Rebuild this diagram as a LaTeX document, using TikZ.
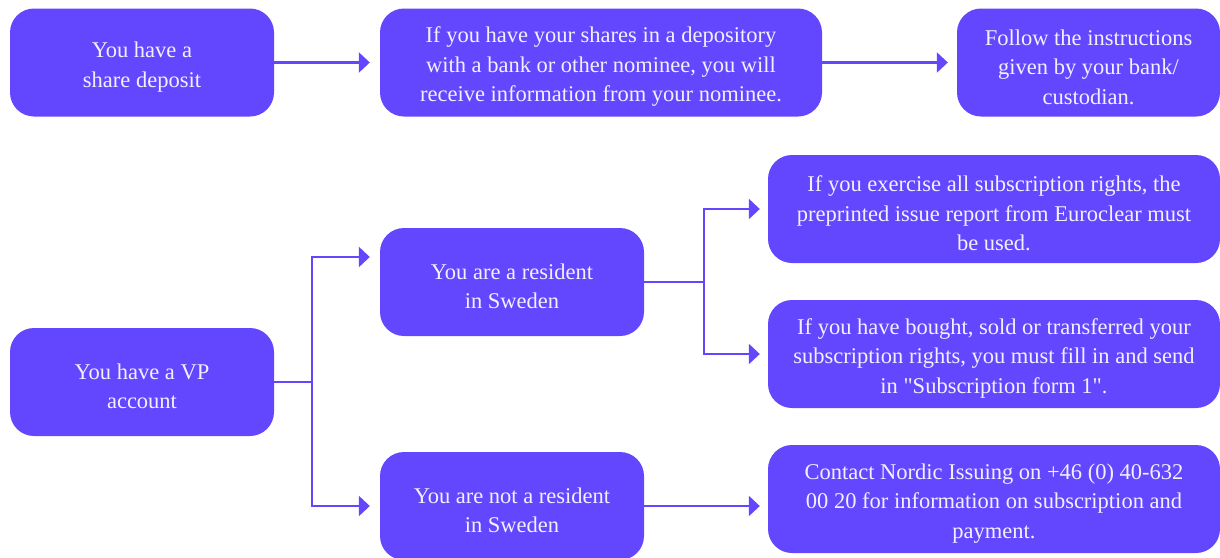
\documentclass[tikz,border=0pt]{standalone}
\usepackage{fontspec}
\setmainfont{Liberation Serif}
\usetikzlibrary{arrows.meta}
\definecolor{boxviolet}{HTML}{6347FF}
\definecolor{boxtext}{HTML}{F2F0FF}
\newcommand\plainquote{\XeTeXglyph\XeTeXglyphindex"quotedbl"\relax}
\newcommand\topgap{\rule{0pt}{24.5pt}}
\begin{document}
\begin{tikzpicture}[x=1pt,y=-1pt,
    box/.style={fill=boxviolet, rounded corners=24pt, text=boxtext, align=center,
      inner sep=0pt, minimum height=108pt, font=\fontsize{22.5}{29.5}\selectfont},
    link/.style={draw=boxviolet, line width=2.4pt, -{Triangle[length=11pt,width=20pt]}},
    stub/.style={draw=boxviolet, line width=2.4pt}]
      \useasboundingbox (0,0) rectangle (1220,557);
      \node[box, minimum width=264pt] (deposit) at (142,62.5) {\topgap You have a\\share deposit};
      \node[box, minimum width=442pt] (nominee) at (601,62.5) {\topgap If you have your shares in a depository\\with a bank or other nominee, you will\\receive information from your nominee.};
      \node[box, minimum width=263pt] (custodian) at (1088.5,62.5) {\topgap Follow the instructions\\given by your bank/\\custodian.};
      \node[box, minimum width=264pt] (vp) at (142,382) {\topgap You have a VP\\account};
      \node[box, minimum width=264pt] (resident) at (512,282) {\topgap You are a resident\\in Sweden};
      \node[box, minimum width=264pt] (nonresident) at (512,506) {\topgap You are not a resident\\in Sweden};
      \node[box, minimum width=452pt] (allrights) at (994,209) {\topgap If you exercise all subscription rights, the\\preprinted issue report from Euroclear must\\be used.};
      \node[box, minimum width=452pt] (traded) at (994,354) {\topgap If you have bought, sold or transferred your\\subscription rights, you must fill in and send\\in \plainquote Subscription form 1\plainquote.};
      \node[box, minimum width=452pt] (contact) at (994,499) {\topgap Contact Nordic Issuing on +46 (0) 40-632\\00 20 for information on subscription and\\payment.};
      \coordinate (vpfork) at (312,382);
      \coordinate (resfork) at (704,282);
      \draw[link] (deposit) -- ([xshift=-10pt]nominee.west);
      \draw[link] (nominee) -- ([xshift=-9pt]custodian.west);
      \draw[stub] (vp.east) -- (vpfork);
      \draw[link] (vpfork) |- ([xshift=-10pt,yshift=25pt]resident.west);
      \draw[link] (vpfork) |- ([xshift=-10pt]nonresident.west);
      \draw[stub] (resident.east) -- (resfork);
      \draw[link] (resfork) |- ([xshift=-8pt]allrights.west);
      \draw[link] (resfork) |- ([xshift=-8pt]traded.west);
      \draw[link] (nonresident.east) -- ([xshift=-8pt]nonresident.east -| contact.west);
    \end{tikzpicture}
\end{document}
